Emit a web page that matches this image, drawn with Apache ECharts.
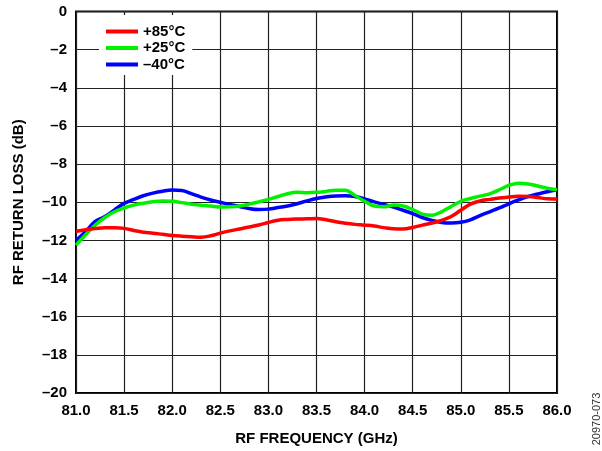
<!DOCTYPE html>
<html>
<head>
<meta charset="utf-8">
<script src="https://cdn.jsdelivr.net/npm/echarts@6/dist/echarts.min.js"></script>
<style>html,body{margin:0;padding:0;background:#fff}#c{width:602px;height:451px}</style>
</head>
<body>
<div id="c"></div>
<script>
var freq = [81.0,81.1,81.2,81.3,81.4,81.5,81.6,81.7,81.8,81.9,82.0,82.1,82.2,82.3,82.4,82.5,82.6,82.7,82.8,82.9,83.0,83.1,83.2,83.3,83.4,83.5,83.6,83.7,83.8,83.9,84.0,84.1,84.2,84.3,84.4,84.5,84.6,84.7,84.8,84.9,85.0,85.1,85.2,85.3,85.4,85.5,85.6,85.7,85.8,85.9,86.0];
var red85 = [-11.52,-11.44,-11.38,-11.34,-11.34,-11.37,-11.48,-11.57,-11.62,-11.68,-11.74,-11.78,-11.81,-11.83,-11.76,-11.62,-11.5,-11.4,-11.3,-11.19,-11.06,-10.94,-10.9,-10.88,-10.87,-10.85,-10.92,-11.02,-11.1,-11.16,-11.2,-11.25,-11.33,-11.39,-11.4,-11.32,-11.2,-11.09,-10.95,-10.75,-10.42,-10.1,-9.93,-9.85,-9.78,-9.73,-9.69,-9.7,-9.75,-9.82,-9.83];
var green25 = [-12.25,-11.7,-11.2,-10.8,-10.5,-10.3,-10.15,-10.05,-9.97,-9.93,-9.95,-10.02,-10.1,-10.16,-10.2,-10.25,-10.24,-10.2,-10.1,-9.98,-9.85,-9.7,-9.55,-9.48,-9.5,-9.48,-9.43,-9.37,-9.37,-9.65,-9.95,-10.2,-10.24,-10.15,-10.2,-10.38,-10.62,-10.68,-10.5,-10.22,-9.95,-9.8,-9.68,-9.56,-9.35,-9.12,-9.0,-9.04,-9.15,-9.27,-9.35];
var blue40 = [-12.0,-11.55,-11.0,-10.75,-10.4,-10.06,-9.85,-9.66,-9.52,-9.42,-9.36,-9.38,-9.55,-9.73,-9.88,-10.0,-10.12,-10.22,-10.33,-10.38,-10.36,-10.28,-10.2,-10.08,-9.93,-9.8,-9.72,-9.67,-9.66,-9.7,-9.82,-9.98,-10.12,-10.25,-10.42,-10.6,-10.8,-10.95,-11.06,-11.09,-11.05,-10.92,-10.7,-10.5,-10.3,-10.08,-9.88,-9.7,-9.57,-9.45,-9.35];
var seriesNames = ['+85°C', '+25°C', '–40°C'];
var xTitle = 'RF FREQUENCY (GHz)';
var yTitle = 'RF RETURN LOSS (dB)';
var noteText = '20970-073';

function pairs(vals){ return freq.map(function(f,i){ return [f, vals[i]]; }); }
var FONT = 'Liberation Sans, Arial, sans-serif';
var chart = echarts.init(document.getElementById('c'), null, {renderer:'canvas'});
var colors = ['#ff0000', '#00f000', '#0000ff'];
var datas = [red85, green25, blue40];
chart.setOption({
  animation: false,
  backgroundColor: '#fff',
  grid: {left: 76, right: 45, top: 11.5, bottom: 56, show: true, borderColor: '#000', borderWidth: 2, backgroundColor: 'transparent'},
  legend: {
    orient: 'vertical', left: 99, top: 15, padding: [9, 7, 3, 7],
    backgroundColor: '#fff', itemGap: 1.5, itemWidth: 32, itemHeight: 4, icon: 'rect',
    textStyle: {fontFamily: FONT, fontWeight: 'bold', fontSize: 15, color: '#000', lineHeight: 15},
    data: seriesNames
  },
  xAxis: {
    type: 'value', min: 81, max: 86, interval: 0.5,
    name: xTitle, nameLocation: 'middle', nameGap: 38,
    nameTextStyle: {fontFamily: FONT, fontWeight: 'bold', fontSize: 15, color: '#000'},
    axisLine: {show: false}, axisTick: {show: false},
    axisLabel: {fontFamily: FONT, fontWeight: 'bold', fontSize: 15, color: '#000', margin: 10,
      formatter: function(v){ return v.toFixed(1); }},
    splitLine: {show: true, lineStyle: {color: '#222', width: 1.2}}
  },
  yAxis: {
    type: 'value', min: -20, max: 0, interval: 2,
    name: yTitle, nameLocation: 'middle', nameGap: 50, nameRotate: 90,
    nameTextStyle: {fontFamily: FONT, fontWeight: 'bold', fontSize: 15, color: '#000'},
    axisLine: {show: false}, axisTick: {show: false},
    axisLabel: {fontFamily: FONT, fontWeight: 'bold', fontSize: 15, color: '#000', margin: 9,
      formatter: function(v){ return String(v).replace('-', '–'); }},
    splitLine: {show: true, lineStyle: {color: '#222', width: 1.2}}
  },
  graphic: [{
    type: 'text', x: 597, y: 419, rotation: Math.PI/2,
    style: {text: noteText, fontFamily: FONT, fontSize: 11, fill: '#333', align: 'center', verticalAlign: 'middle'}
  }],
  series: seriesNames.map(function(n, i){
    return {
      name: n, type: 'line', data: pairs(datas[i]), smooth: 0.4, showSymbol: false, symbol: 'none',
      lineStyle: {color: colors[i], width: 3.5}, itemStyle: {color: colors[i]}, z: 3 - i
    };
  })
});
</script>
</body>
</html>
